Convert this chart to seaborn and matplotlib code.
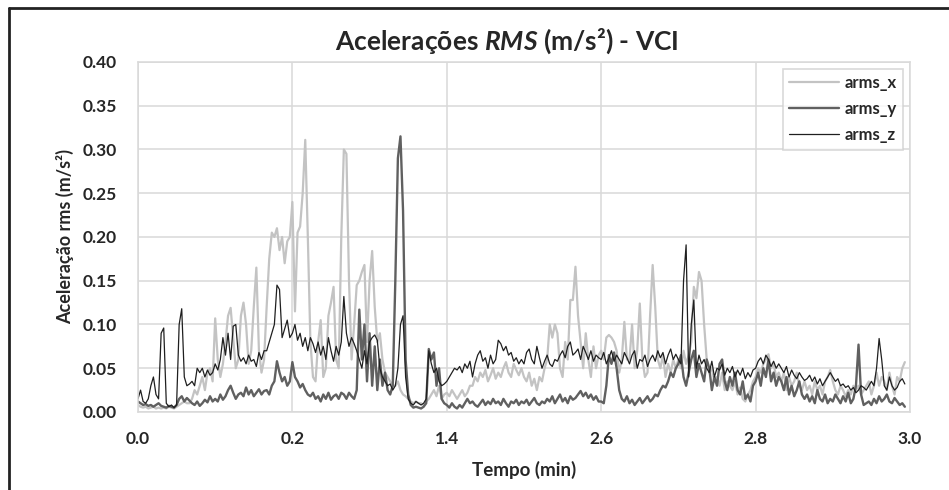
import numpy as np
import pandas as pd
import matplotlib.pyplot as plt
import matplotlib.lines as mlines
import seaborn as sns

# Dados (passo de 0.01 min)
arms_x = [
    0.008, 0.006, 0.005, 0.006, 0.004, 0.005, 0.006, 0.004, 0.005, 0.004,
    0.005, 0.004, 0.006, 0.005, 0.004, 0.006, 0.008, 0.010, 0.012, 0.010,
    0.010, 0.015, 0.025, 0.020, 0.030, 0.040, 0.025, 0.045, 0.050, 0.035,
    0.107, 0.060, 0.040, 0.055, 0.080, 0.110, 0.119, 0.085, 0.050, 0.060,
    0.110, 0.125, 0.100, 0.055, 0.070, 0.120, 0.165, 0.070, 0.045, 0.060,
    0.120, 0.175, 0.205, 0.200, 0.210, 0.185, 0.200, 0.170, 0.195, 0.200,
    0.240, 0.115, 0.205, 0.212, 0.250, 0.311, 0.200, 0.080, 0.040, 0.035,
    0.080, 0.105, 0.040, 0.050, 0.110, 0.125, 0.143, 0.060, 0.050, 0.200,
    0.300, 0.295, 0.150, 0.060, 0.100, 0.145, 0.150, 0.160, 0.168, 0.080,
    0.150, 0.184, 0.120, 0.080, 0.090, 0.060, 0.045, 0.040, 0.035, 0.030,
    0.030, 0.035, 0.025, 0.020, 0.018, 0.015, 0.012, 0.010, 0.012, 0.010,
    0.010, 0.008, 0.012, 0.015, 0.020, 0.025, 0.018, 0.030, 0.015, 0.020,
    0.022, 0.018, 0.025, 0.020, 0.015, 0.020, 0.025, 0.018, 0.022, 0.030,
    0.030, 0.040, 0.035, 0.045, 0.040, 0.048, 0.035, 0.042, 0.050, 0.038,
    0.045, 0.040, 0.050, 0.057, 0.045, 0.040, 0.055, 0.048, 0.042, 0.050,
    0.040, 0.035, 0.045, 0.030, 0.038, 0.025, 0.040, 0.035, 0.050, 0.060,
    0.100, 0.085, 0.100, 0.090, 0.050, 0.040, 0.080, 0.060, 0.128, 0.128,
    0.166, 0.110, 0.080, 0.050, 0.090, 0.060, 0.040, 0.075, 0.050, 0.065,
    0.070, 0.060, 0.085, 0.088, 0.085, 0.080, 0.070, 0.045, 0.060, 0.103,
    0.060, 0.060, 0.100, 0.050, 0.070, 0.124, 0.060, 0.040, 0.045, 0.110,
    0.168, 0.120, 0.060, 0.050, 0.065, 0.040, 0.055, 0.045, 0.060, 0.050,
    0.060, 0.050, 0.070, 0.055, 0.065, 0.080, 0.143, 0.130, 0.160, 0.150,
    0.100, 0.060, 0.045, 0.050, 0.035, 0.040, 0.030, 0.045, 0.025, 0.035,
    0.030, 0.025, 0.035, 0.020, 0.028, 0.015, 0.012, 0.020, 0.025, 0.035,
    0.040, 0.050, 0.045, 0.055, 0.060, 0.066, 0.050, 0.055, 0.040, 0.045,
    0.035, 0.045, 0.025, 0.040, 0.030, 0.035, 0.045, 0.030, 0.025, 0.035,
    0.025, 0.030, 0.020, 0.035, 0.025, 0.030, 0.020, 0.035, 0.040, 0.048,
    0.035, 0.025, 0.020, 0.030, 0.025, 0.018, 0.025, 0.020, 0.030, 0.025,
    0.030, 0.020, 0.025, 0.030, 0.035, 0.020, 0.030, 0.045, 0.030, 0.040,
    0.035, 0.025, 0.045, 0.030, 0.020, 0.040, 0.035, 0.050, 0.057,
]

arms_y = [
    0.012, 0.010, 0.008, 0.009, 0.007, 0.008, 0.006, 0.008, 0.010, 0.007,
    0.006, 0.005, 0.007, 0.006, 0.005, 0.008, 0.015, 0.018, 0.012, 0.016,
    0.013, 0.010, 0.008, 0.012, 0.007, 0.010, 0.014, 0.011, 0.018, 0.012,
    0.015, 0.012, 0.020, 0.014, 0.018, 0.025, 0.030, 0.022, 0.015, 0.020,
    0.022, 0.018, 0.028, 0.020, 0.025, 0.018, 0.022, 0.026, 0.020, 0.024,
    0.025, 0.020, 0.030, 0.035, 0.058, 0.045, 0.035, 0.040, 0.030, 0.035,
    0.057, 0.040, 0.035, 0.028, 0.032, 0.025, 0.020, 0.018, 0.022, 0.015,
    0.018, 0.012, 0.020, 0.015, 0.022, 0.014, 0.018, 0.020, 0.015, 0.022,
    0.020, 0.015, 0.022, 0.018, 0.015, 0.025, 0.117, 0.060, 0.100, 0.035,
    0.090, 0.030, 0.075, 0.025, 0.060, 0.030, 0.045, 0.025, 0.020, 0.030,
    0.150, 0.290, 0.315, 0.230, 0.060, 0.020, 0.008, 0.005, 0.006, 0.005,
    0.004, 0.006, 0.010, 0.072, 0.060, 0.068, 0.030, 0.050, 0.015, 0.010,
    0.008, 0.005, 0.010, 0.006, 0.004, 0.008, 0.005, 0.010, 0.015, 0.010,
    0.012, 0.008, 0.006, 0.010, 0.014, 0.008, 0.012, 0.009, 0.015, 0.010,
    0.012, 0.008, 0.015, 0.010, 0.006, 0.012, 0.010, 0.014, 0.008, 0.012,
    0.010, 0.014, 0.008, 0.012, 0.016, 0.010, 0.008, 0.012, 0.010, 0.015,
    0.012, 0.018, 0.010, 0.015, 0.020, 0.012, 0.016, 0.010, 0.018, 0.014,
    0.016, 0.020, 0.024, 0.018, 0.022, 0.016, 0.020, 0.014, 0.018, 0.012,
    0.012, 0.010, 0.030, 0.065, 0.055, 0.068, 0.050, 0.025, 0.015, 0.012,
    0.018, 0.010, 0.014, 0.008, 0.012, 0.016, 0.010, 0.014, 0.018, 0.012,
    0.015, 0.020, 0.018, 0.025, 0.030, 0.028, 0.035, 0.045, 0.040, 0.050,
    0.055, 0.065, 0.040, 0.030, 0.045, 0.060, 0.070, 0.040, 0.055, 0.045,
    0.035, 0.060, 0.050, 0.025, 0.040, 0.030, 0.055, 0.060, 0.035, 0.025,
    0.040, 0.030, 0.045, 0.025, 0.020, 0.035, 0.015, 0.020, 0.012, 0.030,
    0.035, 0.045, 0.030, 0.050, 0.040, 0.060, 0.035, 0.045, 0.030, 0.040,
    0.035, 0.025, 0.040, 0.020, 0.030, 0.018, 0.025, 0.035, 0.020, 0.015,
    0.020, 0.012, 0.018, 0.010, 0.025, 0.015, 0.012, 0.020, 0.010, 0.015,
    0.012, 0.020, 0.015, 0.010, 0.018, 0.012, 0.022, 0.010, 0.015, 0.030,
    0.077, 0.020, 0.008, 0.010, 0.012, 0.008, 0.015, 0.010, 0.018, 0.012,
    0.015, 0.020, 0.012, 0.010, 0.016, 0.012, 0.008, 0.010, 0.006,
]

arms_z = [
    0.015, 0.025, 0.012, 0.010, 0.015, 0.030, 0.040, 0.020, 0.015, 0.090,
    0.096, 0.010, 0.006, 0.008, 0.005, 0.008, 0.100, 0.118, 0.040, 0.030,
    0.032, 0.035, 0.030, 0.050, 0.045, 0.050, 0.040, 0.048, 0.042, 0.045,
    0.055, 0.048, 0.060, 0.085, 0.065, 0.090, 0.060, 0.098, 0.100, 0.065,
    0.058, 0.062, 0.055, 0.065, 0.058, 0.060, 0.052, 0.068, 0.060, 0.070,
    0.070, 0.080, 0.090, 0.100, 0.145, 0.140, 0.085, 0.095, 0.105, 0.085,
    0.090, 0.100, 0.082, 0.090, 0.075, 0.085, 0.070, 0.085, 0.078, 0.068,
    0.080, 0.065, 0.075, 0.060, 0.085, 0.070, 0.058, 0.075, 0.065, 0.080,
    0.132, 0.090, 0.075, 0.085, 0.078, 0.070, 0.060, 0.050, 0.070, 0.055,
    0.080, 0.085, 0.088, 0.082, 0.050, 0.040, 0.035, 0.030, 0.032, 0.025,
    0.030, 0.050, 0.100, 0.110, 0.040, 0.015, 0.010, 0.008, 0.012, 0.010,
    0.008, 0.010, 0.015, 0.070, 0.055, 0.045, 0.050, 0.035, 0.030, 0.032,
    0.035, 0.040, 0.045, 0.050, 0.048, 0.052, 0.045, 0.055, 0.050, 0.058,
    0.040, 0.055, 0.065, 0.070, 0.058, 0.062, 0.050, 0.065, 0.055, 0.060,
    0.082, 0.078, 0.070, 0.075, 0.065, 0.068, 0.058, 0.062, 0.055, 0.060,
    0.055, 0.068, 0.072, 0.060, 0.055, 0.075, 0.062, 0.050, 0.058, 0.065,
    0.055, 0.052, 0.060, 0.058, 0.065, 0.070, 0.062, 0.075, 0.080, 0.065,
    0.068, 0.072, 0.060, 0.075, 0.068, 0.060, 0.070, 0.058, 0.065, 0.062,
    0.060, 0.068, 0.055, 0.062, 0.070, 0.058, 0.065, 0.060, 0.055, 0.068,
    0.062, 0.055, 0.065, 0.070, 0.050, 0.060, 0.058, 0.065, 0.052, 0.060,
    0.065, 0.058, 0.070, 0.062, 0.068, 0.055, 0.065, 0.072, 0.060, 0.066,
    0.060, 0.055, 0.150, 0.191, 0.040, 0.100, 0.128, 0.050, 0.065, 0.055,
    0.060, 0.050, 0.045, 0.058, 0.040, 0.050, 0.048, 0.055, 0.042, 0.050,
    0.045, 0.052, 0.040, 0.048, 0.042, 0.050, 0.038, 0.045, 0.040, 0.048,
    0.050, 0.058, 0.062, 0.055, 0.065, 0.060, 0.052, 0.058, 0.050, 0.055,
    0.050, 0.045, 0.052, 0.040, 0.048, 0.042, 0.038, 0.045, 0.040, 0.036,
    0.038, 0.042, 0.035, 0.040, 0.032, 0.038, 0.030, 0.035, 0.040, 0.045,
    0.040, 0.035, 0.038, 0.030, 0.032, 0.028, 0.030, 0.025, 0.028, 0.022,
    0.025, 0.030, 0.028, 0.025, 0.030, 0.035, 0.030, 0.050, 0.084, 0.060,
    0.030, 0.025, 0.040, 0.030, 0.025, 0.028, 0.035, 0.038, 0.032,
]

tempo = np.arange(len(arms_x)) * 0.01
xtick_pos = [0.0, 0.6, 1.2, 1.8, 2.4, 3.0]
xtick_labels = ["0.0", "0.2", "1.4", "2.6", "2.8", "3.0"]

df = pd.DataFrame({"tempo": tempo, "arms_x": arms_x, "arms_y": arms_y, "arms_z": arms_z})

sns.set_style("white")
plt.rcParams["font.family"] = ["Lato", "DejaVu Sans"]
plt.rcParams["mathtext.fontset"] = "custom"
plt.rcParams["mathtext.rm"] = "Lato:bold"
plt.rcParams["mathtext.it"] = "Lato:italic:bold"

fig = plt.figure(figsize=(9.49, 4.90), dpi=100)
ax = fig.add_axes([0.1454, 0.1592, 0.8135, 0.7143])

sns.lineplot(data=df, x="tempo", y="arms_x", color="#c3c3c3", linewidth=1.6, label="arms_x", ax=ax)
sns.lineplot(data=df, x="tempo", y="arms_y", color="#606060", linewidth=1.7, label="arms_y", ax=ax)
sns.lineplot(data=df, x="tempo", y="arms_z", color="#1f1f1f", linewidth=0.9, label="arms_z", ax=ax)

ax.set_xlim(0, 3.0)
ax.set_ylim(0, 0.40)
ax.set_xticks(xtick_pos)
ax.set_xticklabels(xtick_labels)
ax.set_yticks(np.arange(0, 0.41, 0.05))
ax.set_yticklabels([f"{v:.2f}" for v in np.arange(0, 0.41, 0.05)])
ax.grid(True, color="#d9d9d9", linewidth=1.1)
ax.set_axisbelow(True)
for s in ax.spines.values():
    s.set_color("#d9d9d9")
    s.set_linewidth(1.1)
ax.tick_params(length=0, labelsize=12.5, labelcolor="#262626")
ax.tick_params(axis="y", pad=15)
ax.tick_params(axis="x", pad=14)
for lab in ax.get_xticklabels() + ax.get_yticklabels():
    lab.set_fontweight("bold")

ax.set_xlabel("Tempo (min)", fontsize=13.5, fontweight="bold", color="#262626", labelpad=10)
ax.set_ylabel("Aceleração rms (m/s²)", fontsize=13, fontweight="bold", color="#262626", labelpad=6)
ax.set_title(r"Acelerações $\mathit{RMS}$ (m/s²) - VCI", fontsize=19, fontweight="bold",
             color="#262626", pad=9, x=0.477)

leg = ax.legend(loc="upper right", fontsize=12, frameon=True, fancybox=False,
                edgecolor="#d0d0d0", handlelength=3.0, handletextpad=0.3,
                borderaxespad=0.4, labelspacing=0.6)
leg.get_frame().set_linewidth(1.2)
for t in leg.get_texts():
    t.set_fontweight("bold")
    t.set_color("#262626")

# moldura externa
fig.add_artist(mlines.Line2D([0.0095, 1.0], [0.984, 0.984], color="#222222", linewidth=2))
fig.add_artist(mlines.Line2D([0.0095, 0.0095], [0.0, 0.984], color="#222222", linewidth=2))

plt.savefig("out.png", dpi=100)
